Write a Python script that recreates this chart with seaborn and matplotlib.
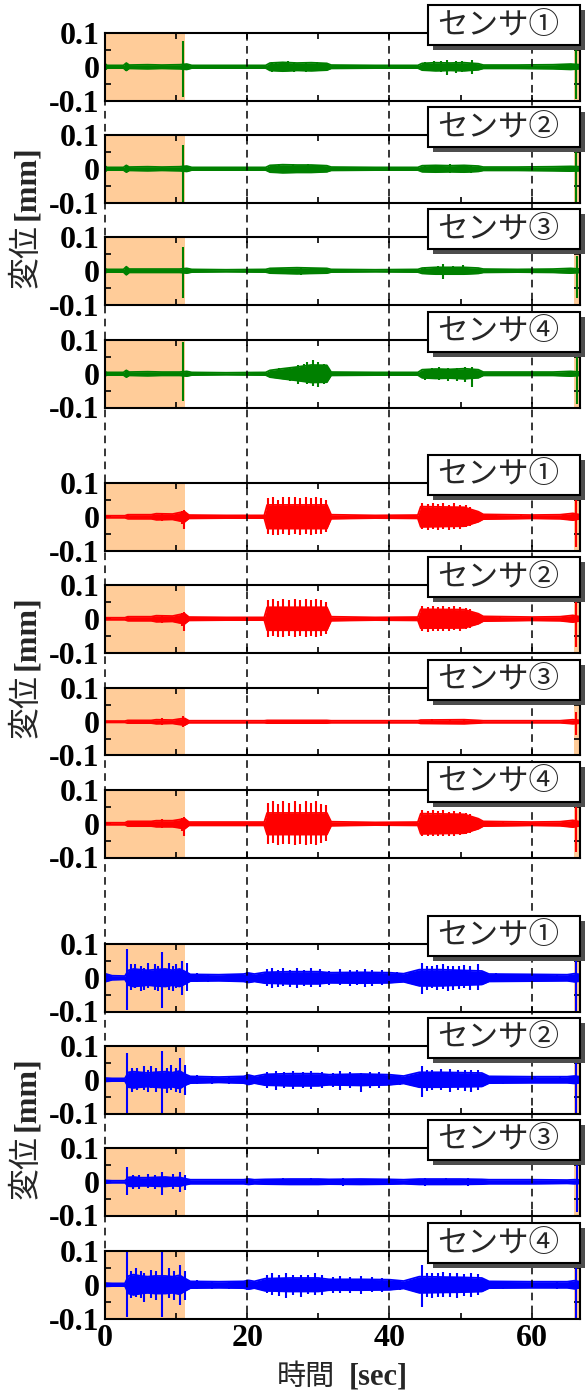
import numpy as np
import matplotlib
matplotlib.use('Agg')
import matplotlib.pyplot as plt
import matplotlib.transforms as mtransforms
from matplotlib.patches import Rectangle
from matplotlib.lines import Line2D
import seaborn as sns

# ---- data (振幅の包絡線 [mm]、ピーク) ----
sensor_labels = ['センサ①', 'センサ②', 'センサ③', 'センサ④']
group_colors = ['#008000', '#FF0000', '#0000FF']
shade_spans = [(0, 11.2), (65.9, 67.2)]
vline_x = [0, 20, 40, 60]
xtick_vals = [0, 10, 20, 30, 40, 50, 60]
xtick_text = ['0', '', '20', '', '40', '', '60']
ytick_vals = [-0.1, -0.05, 0, 0.05, 0.1]
ytick_text = ['-0.1', '', '0', '', '0.1']

# 緑グループ
green_t = [0, 0.3, 0.8, 2.6, 3.0, 3.4, 6.0, 8.0, 10.5, 11.5, 12.2, 17.0, 22.6, 23.2, 25.0, 27.0,
           29.0, 31.2, 31.8, 38.0, 44.0, 44.6, 46.5, 48.5, 50.5, 52.5, 53.2, 58.0, 63.0, 65.5, 66.8]
g1_a = [0.009, 0.004, 0.004, 0.004, 0.011, 0.005, 0.006, 0.005, 0.006, 0.008, 0.004, 0.004, 0.004, 0.011, 0.013, 0.011,
        0.012, 0.01, 0.005, 0.004, 0.004, 0.01, 0.012, 0.011, 0.012, 0.009, 0.005, 0.005, 0.006, 0.008, 0.006]
g2_a = [0.008, 0.004, 0.004, 0.004, 0.01, 0.005, 0.006, 0.005, 0.006, 0.008, 0.004, 0.004, 0.004, 0.01, 0.012, 0.011,
        0.011, 0.009, 0.005, 0.004, 0.004, 0.009, 0.01, 0.009, 0.01, 0.008, 0.005, 0.005, 0.006, 0.007, 0.006]
g3_a = [0.006, 0.004, 0.004, 0.004, 0.012, 0.005, 0.005, 0.005, 0.005, 0.007, 0.004, 0.003, 0.004, 0.007, 0.008, 0.009,
        0.008, 0.007, 0.004, 0.003, 0.004, 0.008, 0.01, 0.01, 0.01, 0.008, 0.005, 0.004, 0.005, 0.007, 0.005]
g4_a = [0.006, 0.004, 0.004, 0.004, 0.01, 0.005, 0.006, 0.005, 0.005, 0.007, 0.004, 0.003, 0.004, 0.01, 0.015, 0.02,
        0.026, 0.025, 0.005, 0.004, 0.004, 0.012, 0.014, 0.013, 0.015, 0.012, 0.005, 0.005, 0.005, 0.007, 0.005]
g1_pk = [(3.0, 0.012, -0.012), (11.0, 0.075, -0.09), (23.5, 0.014, -0.015), (24.0, 0.014, -0.012),
         (25.8, 0.016, -0.014), (26.6, 0.015, -0.016), (28.2, 0.015, -0.016), (29.8, 0.014, -0.013),
         (45.0, 0.013, -0.012), (46.2, 0.016, -0.014), (47.2, 0.018, -0.015), (48.1, 0.02, -0.025),
         (49.3, 0.016, -0.018), (50.2, 0.017, -0.015), (51.6, 0.02, -0.02), (66.3, 0.05, -0.095)]
g2_pk = [(3.0, 0.011, -0.011), (11.0, 0.07, -0.1), (23.8, 0.012, -0.013), (24.5, 0.013, -0.012),
         (26.5, 0.014, -0.012), (28.5, 0.013, -0.014), (45.0, 0.011, -0.01), (46.0, 0.012, -0.01),
         (48.5, 0.014, -0.012), (50.0, 0.012, -0.012), (51.5, 0.012, -0.014), (66.3, 0.05, -0.1)]
g3_pk = [(3.0, 0.012, -0.013), (11.0, 0.07, -0.08), (24.0, 0.009, -0.01), (27.5, 0.01, -0.012),
         (29.0, 0.009, -0.01), (45.0, 0.012, -0.011), (46.8, 0.015, -0.014), (47.6, 0.02, -0.025),
         (49.0, 0.013, -0.014), (50.4, 0.016, -0.012), (66.4, 0.045, -0.08)]
g4_pk = [(3.0, 0.01, -0.011), (11.0, 0.095, -0.08), (24.5, 0.016, -0.017), (26.0, 0.02, -0.02),
         (27.2, 0.025, -0.03), (28.0, 0.03, -0.025), (28.4, 0.035, -0.03), (29.2, 0.04, -0.035),
         (30.0, 0.035, -0.04), (30.8, 0.03, -0.03), (45.0, 0.015, -0.018), (46.0, 0.018, -0.016),
         (47.0, 0.02, -0.018), (48.2, 0.016, -0.02), (49.5, 0.018, -0.02), (50.6, 0.02, -0.024),
         (51.6, 0.02, -0.04), (66.4, 0.05, -0.09)]

# 赤グループ
red_t = [0, 1.5, 2.8, 3.2, 6.5, 7.2, 9.5, 10.4, 11.2, 11.8, 17.0, 22.4, 22.8, 31.2, 31.8, 38.0,
         44.0, 44.4, 50.5, 52.5, 53.2, 60.0, 64.0, 65.8, 66.8]
r1_a = [0.003, 0.003, 0.003, 0.006, 0.006, 0.009, 0.008, 0.012, 0.015, 0.005, 0.004, 0.004, 0.035, 0.035, 0.006, 0.004,
        0.005, 0.03, 0.028, 0.015, 0.007, 0.005, 0.006, 0.01, 0.006]
r2_a = [0.003, 0.003, 0.003, 0.006, 0.006, 0.009, 0.008, 0.012, 0.015, 0.005, 0.004, 0.004, 0.034, 0.034, 0.006, 0.004,
        0.005, 0.028, 0.027, 0.015, 0.007, 0.005, 0.006, 0.01, 0.006]
r3_a = [0.002, 0.002, 0.002, 0.004, 0.004, 0.006, 0.005, 0.008, 0.01, 0.003, 0.003, 0.003, 0.004, 0.004, 0.003, 0.003,
        0.003, 0.005, 0.006, 0.004, 0.003, 0.003, 0.003, 0.006, 0.004]
r4_a = [0.003, 0.003, 0.003, 0.007, 0.007, 0.009, 0.009, 0.012, 0.015, 0.005, 0.005, 0.005, 0.032, 0.032, 0.006, 0.004,
        0.005, 0.03, 0.028, 0.015, 0.007, 0.005, 0.006, 0.01, 0.006]
r1_pk = [(3.2, 0.007, -0.007), (8.0, 0.012, -0.012), (10.8, 0.018, -0.02), (11.1, 0.02, -0.035),
         (22.9, 0.055, -0.05), (23.6, 0.06, -0.055), (24.3, 0.05, -0.055), (25.1, 0.06, -0.05),
         (25.9, 0.058, -0.055), (26.7, 0.06, -0.05), (27.4, 0.055, -0.055), (28.2, 0.06, -0.05),
         (28.9, 0.057, -0.055), (29.7, 0.06, -0.05), (30.4, 0.055, -0.052), (31.1, 0.05, -0.045),
         (44.6, 0.04, -0.035), (45.4, 0.038, -0.04), (46.1, 0.04, -0.035), (46.9, 0.038, -0.038),
         (47.6, 0.04, -0.035), (48.4, 0.036, -0.038), (49.1, 0.04, -0.035), (49.9, 0.035, -0.036),
         (50.7, 0.035, -0.03), (51.4, 0.03, -0.028), (55.0, 0.008, -0.008), (58.5, 0.008, -0.007),
         (66.3, 0.05, -0.09)]
r2_pk = [(3.2, 0.007, -0.007), (8.0, 0.012, -0.012), (10.8, 0.018, -0.02), (11.1, 0.02, -0.035),
         (22.9, 0.055, -0.055), (23.6, 0.058, -0.05), (24.3, 0.052, -0.055), (25.1, 0.058, -0.055),
         (25.9, 0.055, -0.05), (26.7, 0.058, -0.055), (27.4, 0.055, -0.05), (28.2, 0.058, -0.055),
         (28.9, 0.055, -0.05), (29.7, 0.058, -0.055), (30.4, 0.055, -0.05), (31.1, 0.05, -0.045),
         (44.6, 0.038, -0.035), (45.4, 0.036, -0.038), (46.1, 0.038, -0.035), (46.9, 0.036, -0.036),
         (47.6, 0.038, -0.035), (48.4, 0.035, -0.036), (49.1, 0.038, -0.034), (49.9, 0.034, -0.035),
         (50.7, 0.032, -0.03), (51.4, 0.028, -0.026), (55.5, 0.008, -0.008), (66.3, 0.05, -0.085)]
r3_pk = [(8.0, 0.01, -0.01), (10.9, 0.018, -0.015), (25.0, 0.006, -0.005), (46.0, 0.008, -0.007),
         (48.5, 0.009, -0.008), (50.5, 0.008, -0.008), (66.3, 0.03, -0.04)]
r4_pk = [(3.2, 0.008, -0.008), (8.0, 0.014, -0.014), (10.8, 0.018, -0.02), (11.1, 0.02, -0.035),
         (22.9, 0.062, -0.06), (23.6, 0.066, -0.058), (24.3, 0.06, -0.062), (25.1, 0.066, -0.06),
         (25.9, 0.062, -0.06), (26.7, 0.066, -0.062), (27.4, 0.06, -0.06), (28.2, 0.066, -0.062),
         (28.9, 0.062, -0.06), (29.7, 0.066, -0.062), (30.4, 0.06, -0.058), (31.1, 0.055, -0.05),
         (44.6, 0.04, -0.037), (45.4, 0.038, -0.036), (46.1, 0.04, -0.037), (46.9, 0.038, -0.035),
         (47.6, 0.04, -0.037), (48.4, 0.036, -0.035), (49.1, 0.038, -0.036), (49.9, 0.035, -0.034),
         (50.7, 0.032, -0.03), (51.4, 0.028, -0.026), (56.0, 0.008, -0.008), (66.3, 0.05, -0.085)]

# 青グループ
blue_t = [0, 1.0, 2.8, 3.3, 4.0, 5.0, 6.0, 7.0, 8.5, 9.5, 10.5, 11.3, 12.0, 16.0, 19.5, 20.2, 21.0,
          22.5, 26.0, 30.0, 31.5, 36.0, 40.0, 42.0, 44.2, 47.0, 50.0, 53.0, 54.0, 60.0, 65.0, 66.0, 66.8]
b1_a = [0.012, 0.006, 0.005, 0.022, 0.026, 0.024, 0.022, 0.024, 0.026, 0.022, 0.026, 0.018, 0.01, 0.009, 0.011, 0.014, 0.011,
        0.016, 0.018, 0.018, 0.015, 0.016, 0.015, 0.012, 0.024, 0.024, 0.022, 0.02, 0.011, 0.01, 0.009, 0.012, 0.01]
b2_a = [0.005, 0.004, 0.004, 0.022, 0.024, 0.022, 0.02, 0.022, 0.024, 0.021, 0.026, 0.016, 0.01, 0.008, 0.01, 0.014, 0.01,
        0.016, 0.018, 0.018, 0.015, 0.017, 0.015, 0.011, 0.022, 0.022, 0.021, 0.02, 0.01, 0.009, 0.009, 0.011, 0.009]
b3_a = [0.004, 0.003, 0.003, 0.013, 0.014, 0.012, 0.012, 0.013, 0.014, 0.012, 0.013, 0.009, 0.006, 0.006, 0.006, 0.008, 0.006,
        0.007, 0.008, 0.008, 0.007, 0.008, 0.007, 0.006, 0.008, 0.008, 0.008, 0.007, 0.006, 0.006, 0.005, 0.006, 0.005]
b4_a = [0.005, 0.004, 0.004, 0.026, 0.03, 0.026, 0.024, 0.026, 0.026, 0.024, 0.028, 0.018, 0.01, 0.009, 0.01, 0.013, 0.01,
        0.018, 0.02, 0.02, 0.016, 0.016, 0.015, 0.011, 0.024, 0.023, 0.022, 0.02, 0.01, 0.009, 0.009, 0.012, 0.009]
b1_pk = [(3.1, 0.085, -0.095), (3.6, 0.04, -0.035), (4.2, 0.04, -0.03), (5.0, 0.035, -0.04), (5.5, 0.03, -0.035),
         (6.1, 0.045, -0.03), (7.0, 0.04, -0.035), (7.5, 0.035, -0.04), (8.0, 0.075, -0.09), (9.0, 0.045, -0.035),
         (9.6, 0.035, -0.04), (10.0, 0.04, -0.03), (10.8, 0.05, -0.05), (11.5, 0.045, -0.04),
         (13.0, 0.013, -0.014), (14.5, 0.012, -0.013), (17.5, 0.012, -0.012), (20.0, 0.016, -0.015),
         (22.8, 0.025, -0.024), (23.5, 0.028, -0.03), (24.3, 0.022, -0.026), (25.0, 0.03, -0.025),
         (26.0, 0.024, -0.028), (27.0, 0.028, -0.03), (28.0, 0.024, -0.025), (29.0, 0.03, -0.028),
         (30.2, 0.025, -0.026), (31.5, 0.02, -0.022), (33.0, 0.025, -0.022), (34.5, 0.022, -0.024),
         (35.5, 0.024, -0.02), (36.5, 0.025, -0.028), (37.5, 0.022, -0.024), (39.0, 0.022, -0.022),
         (41.0, 0.016, -0.016), (43.0, 0.016, -0.015), (44.6, 0.045, -0.048), (45.3, 0.035, -0.035),
         (46.0, 0.035, -0.03), (46.7, 0.038, -0.036), (47.5, 0.04, -0.032), (48.2, 0.034, -0.038),
         (49.0, 0.035, -0.035), (49.8, 0.036, -0.032), (50.5, 0.038, -0.03), (51.3, 0.034, -0.036),
         (52.4, 0.04, -0.035), (55.0, 0.013, -0.012), (57.5, 0.012, -0.012), (61.0, 0.011, -0.01),
         (63.5, 0.012, -0.011), (66.3, 0.1, -0.1)]
b2_pk = [(3.1, 0.078, -0.1), (3.8, 0.035, -0.035), (4.5, 0.035, -0.03), (5.5, 0.04, -0.03), (6.0, 0.03, -0.035),
         (6.5, 0.04, -0.025), (7.2, 0.035, -0.035), (8.0, 0.085, -0.1), (8.7, 0.035, -0.04), (9.3, 0.045, -0.03),
         (10.0, 0.035, -0.035), (10.5, 0.065, -0.04), (11.2, 0.045, -0.045), (13.0, 0.013, -0.013),
         (15.0, 0.012, -0.012), (17.5, 0.012, -0.013), (20.0, 0.016, -0.015), (22.8, 0.022, -0.024),
         (24.0, 0.025, -0.03), (25.2, 0.024, -0.025), (26.5, 0.025, -0.028), (27.8, 0.022, -0.025),
         (29.0, 0.025, -0.028), (30.5, 0.022, -0.024), (32.0, 0.02, -0.02), (33.0, 0.025, -0.03),
         (34.5, 0.022, -0.025), (36.0, 0.02, -0.035), (37.3, 0.022, -0.025), (38.5, 0.022, -0.025),
         (41.5, 0.015, -0.016), (44.6, 0.04, -0.05), (45.3, 0.03, -0.032), (46.0, 0.03, -0.03),
         (47.2, 0.032, -0.03), (48.5, 0.032, -0.035), (49.7, 0.03, -0.03), (50.6, 0.028, -0.032),
         (51.5, 0.03, -0.035), (52.5, 0.028, -0.03), (56.0, 0.012, -0.012), (60.5, 0.011, -0.011),
         (64.0, 0.012, -0.011), (66.3, 0.1, -0.1)]
b3_pk = [(3.1, 0.045, -0.04), (4.0, 0.02, -0.022), (4.8, 0.02, -0.02), (6.0, 0.022, -0.018), (7.0, 0.02, -0.02),
         (8.0, 0.03, -0.04), (9.5, 0.022, -0.02), (10.6, 0.03, -0.03), (11.3, 0.02, -0.025),
         (20.0, 0.01, -0.01), (25.0, 0.01, -0.011), (29.0, 0.011, -0.01), (33.5, 0.011, -0.012),
         (40.0, 0.01, -0.01), (45.0, 0.012, -0.012), (48.0, 0.012, -0.011), (51.0, 0.011, -0.012),
         (66.4, 0.05, -0.09)]
b4_pk = [(3.1, 0.1, -0.095), (3.7, 0.04, -0.04), (4.3, 0.05, -0.035), (5.0, 0.04, -0.04), (5.5, 0.035, -0.05),
         (6.5, 0.045, -0.04), (7.2, 0.04, -0.045), (8.0, 0.1, -0.095), (9.0, 0.05, -0.04), (9.7, 0.04, -0.045),
         (10.5, 0.06, -0.06), (11.3, 0.04, -0.045), (13.0, 0.013, -0.013), (15.0, 0.012, -0.012),
         (17.5, 0.012, -0.013), (20.0, 0.015, -0.015), (22.8, 0.028, -0.025), (23.5, 0.035, -0.03),
         (24.5, 0.03, -0.034), (25.5, 0.035, -0.04), (26.5, 0.028, -0.03), (27.5, 0.03, -0.035),
         (28.5, 0.03, -0.028), (29.5, 0.035, -0.03), (30.5, 0.028, -0.03), (32.0, 0.022, -0.024),
         (33.0, 0.025, -0.025), (34.5, 0.022, -0.024), (36.0, 0.025, -0.028), (37.5, 0.022, -0.022),
         (39.0, 0.02, -0.022), (41.5, 0.015, -0.015), (44.6, 0.06, -0.065), (45.3, 0.035, -0.035),
         (46.0, 0.035, -0.04), (46.8, 0.034, -0.036), (47.5, 0.038, -0.035), (48.5, 0.034, -0.036),
         (49.5, 0.035, -0.04), (50.5, 0.032, -0.034), (51.5, 0.035, -0.035), (52.5, 0.032, -0.03),
         (56.0, 0.012, -0.012), (60.0, 0.011, -0.011), (63.5, 0.012, -0.012), (66.3, 0.1, -0.1)]

groups = [
    (green_t, [g1_a, g2_a, g3_a, g4_a], [g1_pk, g2_pk, g3_pk, g4_pk]),
    (red_t, [r1_a, r2_a, r3_a, r4_a], [r1_pk, r2_pk, r3_pk, r4_pk]),
    (blue_t, [b1_a, b2_a, b3_a, b4_a], [b1_pk, b2_pk, b3_pk, b4_pk]),
]

# ---- style ----
sns.set_style('ticks')
plt.rcParams['font.family'] = ['Liberation Serif', 'Noto Sans CJK JP']
plt.rcParams['font.weight'] = 'bold'

W, H = 585, 1398
fig = plt.figure(figsize=(W / 100, H / 100), dpi=100)

def fx(px):
    return px / W

def fy(py):
    return 1 - py / H

ax_left, ax_right, ax_h = 105, 580, 67.5
group_tops = [[33, 135, 237, 340], [483, 585, 688, 790], [944, 1046, 1148, 1251]]
orange = '#FFCC99'

axes = []
for gi, (t, amps, peaks) in enumerate(groups):
    color = group_colors[gi]
    t = np.array(t)
    for k in range(4):
        top = group_tops[gi][k]
        ax = fig.add_axes([fx(ax_left), fy(top + ax_h), fx(ax_right - ax_left), ax_h / H])
        for s0, s1 in shade_spans:
            ax.axvspan(s0, s1, color=orange, lw=0, zorder=0)
        a = np.array(amps[k])
        ax.fill_between(t, -a, a, color=color, lw=0, zorder=2)
        sns.lineplot(x=t, y=a, ax=ax, color=color, lw=1.3, legend=False, zorder=2)
        sns.lineplot(x=t, y=-a, ax=ax, color=color, lw=1.3, legend=False, zorder=2)
        pk = np.array(peaks[k])
        ax.vlines(pk[:, 0], pk[:, 2], pk[:, 1], color=color, lw=1.5, zorder=2)

        ax.set_xlim(0, 66.8)
        ax.set_ylim(-0.1, 0.1)
        ax.set_xlabel('')
        ax.set_ylabel('')
        ax.set_xticks(xtick_vals)
        ax.set_yticks(ytick_vals)
        ax.set_yticklabels(ytick_text)
        if gi == 2 and k == 3:
            ax.set_xticklabels(xtick_text)
        else:
            ax.set_xticklabels([])
        ax.tick_params(direction='in', top=True, right=True, length=4, width=1.2,
                       labelsize=23, pad=4, colors='black')
        for sp in ax.spines.values():
            sp.set_visible(True)
            sp.set_linewidth(1.5)
            sp.set_color('black')

        # ラベルボックス(影付き)
        bx0, bx1 = 428, 580
        by0, by1 = top - 28, top + 12
        fig.add_artist(Rectangle((fx(bx0 + 5), fy(by1 + 5)), fx(bx1 - bx0), (by1 - by0) / H,
                                 transform=fig.transFigure, fc='0.3', ec='none', zorder=5))
        fig.add_artist(Rectangle((fx(bx0), fy(by1)), fx(bx1 - bx0), (by1 - by0) / H,
                                 transform=fig.transFigure, fc='white', ec='black', lw=1.5, zorder=6))
        fig.text(fx(498), fy(top - 8), sensor_labels[k], family=['Noto Sans CJK JP'],
                 fontweight='normal', fontsize=22, ha='center', va='center', zorder=7)
        axes.append(ax)

# 縦の破線(全パネル共通)
trans = mtransforms.blended_transform_factory(axes[-1].transData, fig.transFigure)
for xv in vline_x:
    fig.add_artist(Line2D([xv, xv], [fy(33), fy(1251 + ax_h)], transform=trans, color='black',
                          lw=1.1, ls=(0, (5, 3.5)), zorder=4))

# 縦軸ラベル
for gi in range(3):
    c = (group_tops[gi][0] + group_tops[gi][3] + ax_h) / 2
    fig.text(fx(26), fy(c + 36), '変位', rotation=90, family=['Noto Sans CJK JP'],
             fontweight='normal', fontsize=23, ha='center', va='center')
    fig.text(fx(27), fy(c - 38), '[mm]', rotation=90, family=['Liberation Serif'],
             fontweight='bold', fontsize=23, ha='center', va='center')

# 横軸ラベル
fig.text(fx(306), fy(1377), '時間', family=['Noto Sans CJK JP'], fontweight='normal',
         fontsize=21, ha='center', va='center')
fig.text(fx(378), fy(1377), '[sec]', family=['Liberation Serif'], fontweight='bold',
         fontsize=22, ha='center', va='center')

fig.savefig('out.png', dpi=100)
